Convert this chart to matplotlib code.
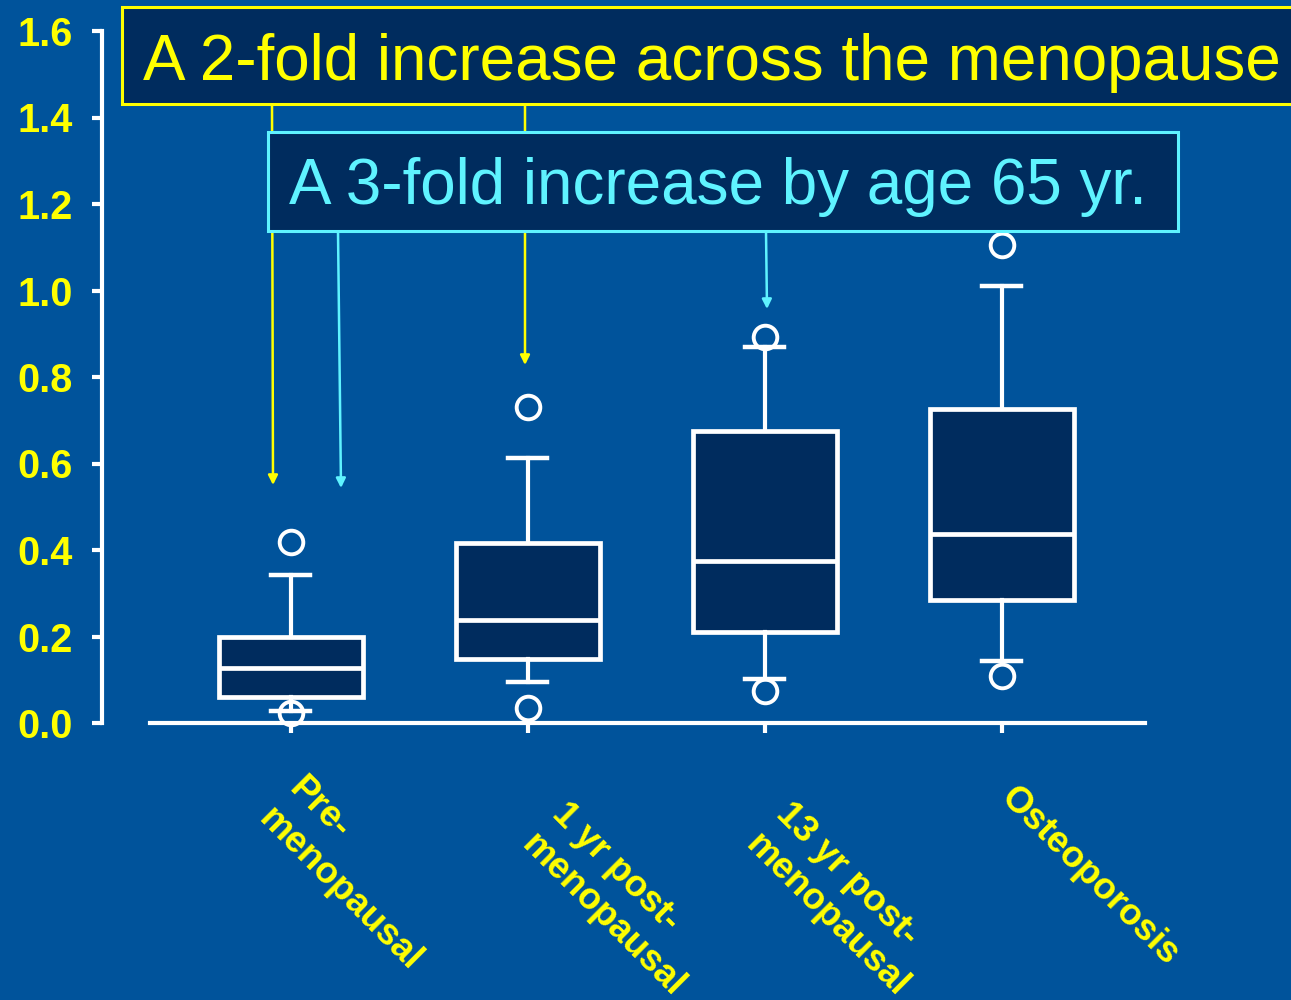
import matplotlib
matplotlib.use('Agg')
import matplotlib.pyplot as plt
from matplotlib.patches import Rectangle

# box summaries
groups = ['Pre-\nmenopausal', '1 yr post-\nmenopausal', '13 yr post-\nmenopausal', 'Osteoporosis']
q1 = [0.060, 0.148, 0.210, 0.284]
med = [0.127, 0.238, 0.375, 0.437]
q3 = [0.199, 0.416, 0.675, 0.726]
whislo = [0.028, 0.095, 0.101, 0.143]
whishi = [0.342, 0.613, 0.869, 1.010]
fliers_lo = [0.023, 0.035, 0.074, 0.109]
fliers_hi = [0.418, 0.731, 0.892, 1.106]
yticks = [0.0, 0.2, 0.4, 0.6, 0.8, 1.0, 1.2, 1.4, 1.6]

note_2fold = 'A 2-fold increase across the menopause'
note_3fold = 'A 3-fold increase by age 65 yr.'

BG = '#00539b'
NAVY = '#002c5e'
YEL = '#ffff00'
CYAN = '#5ff3ff'
W, H = 1291, 1000

plt.rcParams['font.family'] = ['Liberation Sans', 'DejaVu Sans']

fig = plt.figure(figsize=(W / 100, H / 100), dpi=100, facecolor=BG)
ax = fig.add_axes([102 / W, 1 - 723 / H, (1160 - 102) / W, (723 - 31) / H])
ax.set_facecolor(BG)

def px(x, y):
    # figure pixel (from top-left) -> figure fraction
    return x / W, 1 - y / H

stats = []
for i in range(len(groups)):
    stats.append(dict(med=med[i], q1=q1[i], q3=q3[i], whislo=whislo[i], whishi=whishi[i],
                      fliers=[fliers_lo[i], fliers_hi[i]]))
pos = [1, 2, 3, 4]
ax.bxp(stats, positions=pos, widths=0.61, patch_artist=True, capwidths=0.165,
       boxprops=dict(facecolor=NAVY, edgecolor='white', linewidth=3.4),
       medianprops=dict(color='white', linewidth=3.4),
       whiskerprops=dict(color='white', linewidth=3.0),
       capprops=dict(color='white', linewidth=3.2),
       flierprops=dict(marker='o', markersize=17, markerfacecolor='none',
                       markeredgecolor='white', markeredgewidth=2.8, clip_on=False))

ax.set_xlim(0.203, 4.667)
ax.set_ylim(0, 1.6)
for s in ['top', 'right']:
    ax.spines[s].set_visible(False)
ax.spines['left'].set_color('white')
ax.spines['left'].set_linewidth(3)
ax.spines['bottom'].set_color('white')
ax.spines['bottom'].set_linewidth(3)
ax.spines['bottom'].set_bounds(0.405, 4.603)

ax.set_yticks(yticks)
ax.set_yticklabels(['%.1f' % v for v in yticks], color=YEL, fontsize=28.5, fontweight='bold')
ax.tick_params(axis='y', colors='white', width=3, length=7, pad=14, labelcolor=YEL)
ax.set_xticks(pos)
ax.set_xticklabels([])
ax.tick_params(axis='x', colors='white', width=3, length=7, direction='out')

# slanted category labels
lab_dx = [0.067, 0.177, 0.122, 0.070]
lab_y = [-0.11, -0.17, -0.17, -0.133]
for i, g in enumerate(groups):
    ax.text(pos[i] + lab_dx[i], lab_y[i], g, color=YEL, fontsize=26.5, fontweight='bold',
            rotation=-45, rotation_mode='anchor', ha='left', va='top',
            linespacing=1.3, clip_on=False)

# yellow call-out
arr = dict(arrowstyle='-|>', lw=1.8, mutation_scale=14, shrinkA=0, shrinkB=0)
for x0, x1, y1 in [(272, 273, 485), (525, 525, 365)]:
    ax.annotate('', xy=px(x1, y1), xycoords='figure fraction',
                xytext=px(x0, 104), textcoords='figure fraction',
                arrowprops=dict(arr, color=YEL), zorder=3, annotation_clip=False)
x, y = px(122, 104)
fig.patches.append(Rectangle((x, y), (1310 - 122) / W, 97 / H, transform=fig.transFigure,
                             facecolor=NAVY, edgecolor=YEL, linewidth=2.2, zorder=2))
fig.text(*px(143, 80), note_2fold, color=YEL, fontsize=45.9, va='baseline', ha='left', zorder=3)

# cyan call-out
x, y = px(268, 231)
fig.patches.append(Rectangle((x, y), (1178 - 268) / W, 99 / H, transform=fig.transFigure,
                             facecolor=NAVY, edgecolor=CYAN, linewidth=2.2, zorder=4))
fig.text(*px(289, 204), note_3fold, color=CYAN, fontsize=45.9, va='baseline', ha='left', zorder=5)
for x0, x1, y1 in [(338, 341, 488), (766, 767, 309)]:
    ax.annotate('', xy=px(x1, y1), xycoords='figure fraction',
                xytext=px(x0, 231), textcoords='figure fraction',
                arrowprops=dict(arr, color=CYAN), zorder=5, annotation_clip=False)

fig.savefig('out.png', dpi=100, facecolor=BG)
